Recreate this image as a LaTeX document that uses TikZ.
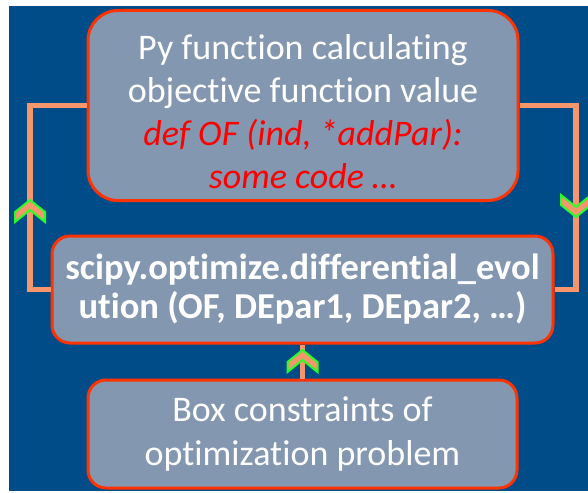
\documentclass[tikz,border=0pt]{standalone}
\usepackage{fontspec}
\setmainfont{Carlito}[Ligatures=NoCommon]
\definecolor{bgblue}{RGB}{0,76,136}
\definecolor{boxfill}{RGB}{132,151,176}
\definecolor{boxline}{RGB}{255,51,0}
\definecolor{linkcol}{RGB}{246,150,108}
\definecolor{chevgreen}{RGB}{40,255,40}
\definecolor{codered}{RGB}{255,0,0}
\tikzset{
  panel/.style={draw=boxline, line width=3pt, fill=boxfill, inner sep=0pt},
  label text/.style={text=white, align=center, inner sep=0pt},
  link/.style={draw=linkcol, line width=5.5pt},
  chev/.pic={
    \path[fill=linkcol, draw=chevgreen, line width=2pt, line join=miter]
      (0,0) -- (15,12) -- (15,22) -- (0,10) -- (-15,22) -- (-15,12) -- cycle;
  }
}
\begin{document}
\begin{tikzpicture}[x=1pt,y=-1pt]
  \useasboundingbox (0,0) rectangle (588,492);
  \fill[bgblue] (9,6) rectangle (588,491);

  % the three boxes
  \node[panel, rounded corners=30pt, minimum width=430pt, minimum height=190pt]
    (top) at (303,105.5) {};
  \node[label text, font=\fontsize{36}{43}\selectfont] (toptext) at (303,112)
    {Py function calculating\\objective function value\\
     \textcolor{codered}{\itshape def OF (ind, *addPar):}\\
     \textcolor{codered}{\itshape some code \ldots}};

  \node[panel, rounded corners=18pt, minimum width=501pt, minimum height=107pt]
    (mid) at (302.5,289.5) {};
  \node[label text, font=\fontsize{36.5}{39}\selectfont\bfseries] (midtext)
    at (302.5,289.5)
    {scipy.optimize.differential\_evol\\ution (OF, DEpar1, DEpar2, \ldots)};

  \node[panel, rounded corners=18pt, minimum width=429pt, minimum height=108pt]
    (bot) at (302.5,434) {};
  \node[label text, font=\fontsize{36}{44}\selectfont] (bottext) at (302.5,434)
    {Box constraints of\\optimization problem};

  % loop connectors
  \coordinate (leftx) at (30,0);
  \coordinate (rightx) at (576,0);
  \draw[link] (mid.west) -- (mid.west -| leftx) |- (top.west);
  \draw[link] (top.east) -- (top.east -| rightx) |- (mid.east);
  \draw[link] (bot.north) -- (mid.south);

  % direction chevrons
  \pic at (30,200) {chev};
  \pic[rotate=180] at (576,217) {chev};
  \pic at (302.5,350) {chev};
\end{tikzpicture}
\end{document}
